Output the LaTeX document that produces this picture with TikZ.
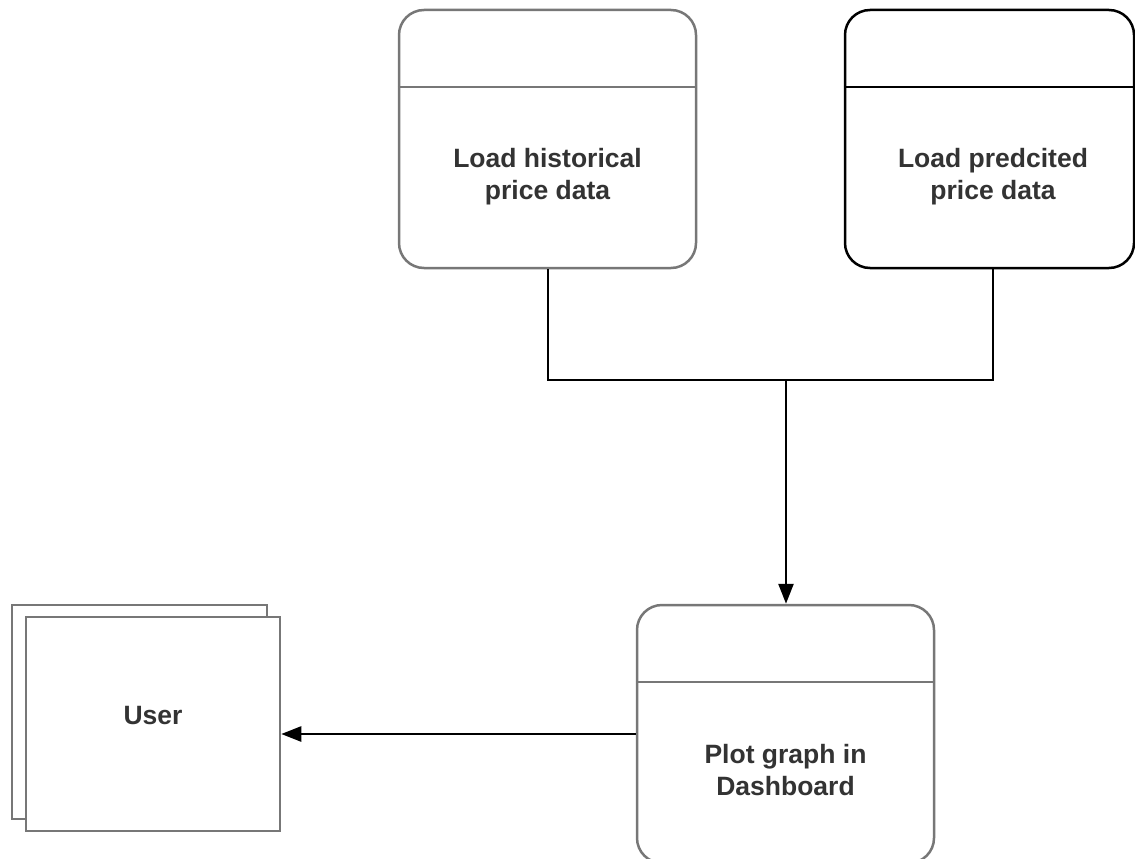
\documentclass[tikz,border=0pt]{standalone}
\usepackage{fontspec}
\setmainfont{Liberation Sans}
\usetikzlibrary{arrows.meta}
\definecolor{edgegray}{HTML}{777777}
\definecolor{txtgray}{HTML}{333333}
\begin{document}
\begin{tikzpicture}[x=1pt,y=-1pt,
  procbox/.style={draw=edgegray,line width=2.5pt,rounded corners=25pt,inner sep=0pt,fill=white},
  blackbox/.style={procbox,draw=black},
  userbox/.style={draw=edgegray,line width=2.5pt,inner sep=0pt,fill=white},
  label/.style={font=\bfseries\fontsize{26.5}{32}\selectfont,text=txtgray,align=center},
  conn/.style={line width=2.5pt,draw=black},
  arr/.style={conn,-{Triangle[length=20pt,width=15pt]}}]
\useasboundingbox (0,0) rectangle (1135,859);
% top boxes
\node[procbox,minimum width=297pt,minimum height=258pt] (hist) at (547.5,139) {};
\draw[edgegray,line width=2.5pt] (hist.west |- 0,87) -- (hist.east |- 0,87);
\node[label] (histtxt) at (547.5,177) {Load historical\\price data};
\node[blackbox,minimum width=289pt,minimum height=258pt] (pred) at (989.5,139) {};
\draw[black,line width=2.5pt] (pred.west |- 0,87) -- (pred.east |- 0,87);
\node[label] (predtxt) at (993,177) {Load predcited\\price data};
% plot box
\node[procbox,minimum width=297pt,minimum height=258pt] (plot) at (785.5,734) {};
\draw[edgegray,line width=2.5pt] (plot.west |- 0,682) -- (plot.east |- 0,682);
\node[label] (plottxt) at (785.5,770) {Plot graph in\\Dashboard};
% user
\node[userbox,minimum width=255pt,minimum height=214pt] (userback) at (139.5,712) {};
\node[userbox,minimum width=254pt,minimum height=214pt] (user) at (153,724) {};
\node[label] (usertxt) at (153,716) {User};
% connectors
\coordinate (hb) at (548,268);
\coordinate (pb) at (993,268);
\coordinate (join) at (786,380);
\draw[conn] (hist.south -| hb) -- (548,380) -- (993,380) -- (pred.south -| pb);
\draw[arr] (join) -- (plot.north -| join);
\draw[arr] (plot.west) -- (user.east |- plot.west);
\end{tikzpicture}
\end{document}
